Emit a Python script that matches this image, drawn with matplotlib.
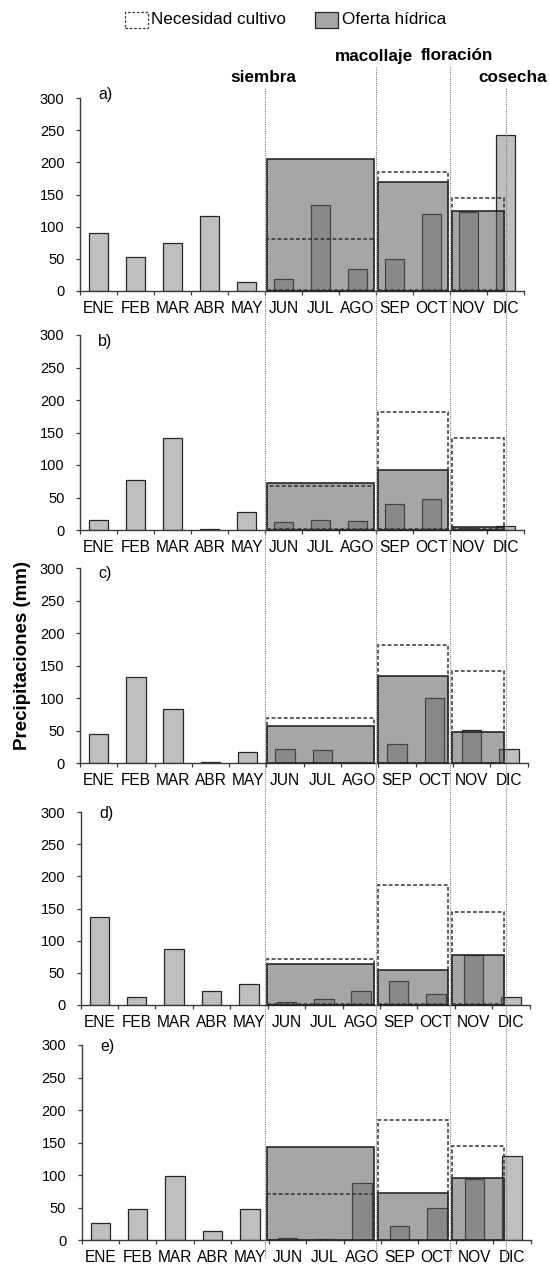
"""
Precipitaciones mensuales vs necesidad del cultivo por etapa (paneles a-e)
"""

import numpy as np
import matplotlib
matplotlib.use('Agg')
import matplotlib.pyplot as plt
from matplotlib.patches import Rectangle
from matplotlib.lines import Line2D
from matplotlib import transforms

plt.rcParams['font.family'] = ['Liberation Sans', 'DejaVu Sans']

# datos
months = ['ENE', 'FEB', 'MAR', 'ABR', 'MAY', 'JUN', 'JUL', 'AGO', 'SEP', 'OCT', 'NOV', 'DIC']

lluvia_a = [90, 53, 75, 117, 14, 19, 134, 34, 49, 120, 123, 242]
lluvia_b = [15, 77, 142, 1, 27, 13, 15, 14, 40, 48, 3, 6]
lluvia_c = [45, 132, 83, 2.5, 17, 22, 21, 1, 29, 100, 52, 22]
lluvia_d = [137, 13, 87, 21, 33, 4, 10, 22, 37, 17, 77, 13]
lluvia_e = [27, 48, 99, 14, 48, 3.5, 2.5, 88, 22, 49, 94, 130]

# por etapa: siembra-macollaje, macollaje-floración, floración-cosecha
oferta_a = [205, 170, 124]
oferta_b = [73, 92, 4]
oferta_c = [58, 135, 48]
oferta_d = [64, 54, 78]
oferta_e = [144, 72, 95]

necesidad_a = [81, 185, 145]
necesidad_b = [67, 181, 142]
necesidad_c = [69, 182, 142]
necesidad_d = [71, 186, 145]
necesidad_e = [71, 185, 145]

panel_names = ['a)', 'b)', 'c)', 'd)', 'e)']
etapas = ['siembra', 'macollaje', 'floración', 'cosecha']
etapa_pos = [4.5, 7.5, 9.5, 11.0]

lluvias = [lluvia_a, lluvia_b, lluvia_c, lluvia_d, lluvia_e]
ofertas = [oferta_a, oferta_b, oferta_c, oferta_d, oferta_e]
necesidades = [necesidad_a, necesidad_b, necesidad_c, necesidad_d, necesidad_e]

W, H = 549, 1267
fig = plt.figure(figsize=(W / 100, H / 100), dpi=100)

# cajas en pixeles: izquierda, derecha, y del 0, y del 300
boxes = [(79.9, 524.3, 291, 98),
         (79.9, 524.3, 530, 335),
         (79.9, 527.5, 763.3, 568.3),
         (80.6, 529.6, 1005, 812),
         (81.6, 530.6, 1240.3, 1045)]
label_y = [306, 290, 292, 298, 298]

x = np.arange(len(months))
axes = []
for i, (l, r, y0, yt) in enumerate(boxes):
    ax = fig.add_axes([l / W, 1 - y0 / H, (r - l) / W, (y0 - yt) / H])
    axes.append(ax)
ax_ref = axes[0]

for i, ax in enumerate(axes):
    ax.bar(x, lluvias[i], width=0.52, color='#BFBFBF', edgecolor='#262626',
           linewidth=0.9, zorder=2)

    # rectangulos por etapa, alineados con las lineas de etapa (panel a)
    trans = transforms.blended_transform_factory(ax_ref.transData, ax.transData)
    for k in range(3):
        s, e = etapa_pos[k] + 0.04, etapa_pos[k + 1] - 0.06
        ax.add_patch(Rectangle((s, 0), e - s, ofertas[i][k], transform=trans,
                               facecolor=(0.37, 0.37, 0.37, 0.55), edgecolor='#1a1a1a',
                               linewidth=1.1, zorder=3, clip_on=False))
        ax.add_patch(Rectangle((s, 0.8), e - s, necesidades[i][k] - 0.8, transform=trans,
                               fill=False, edgecolor='#333333', linestyle=(0, (2.5, 1.5)),
                               linewidth=1.1, zorder=4, clip_on=False))

    ax.set_xlim(-0.5, 11.5)
    ax.set_ylim(0, 300)
    ax.spines['top'].set_visible(False)
    ax.spines['right'].set_visible(False)
    for sp in ['left', 'bottom']:
        ax.spines[sp].set_color('#3a3a3a')
        ax.spines[sp].set_linewidth(1.0)

    ax.set_xticks(np.arange(-0.5, 12, 1))
    ax.set_xticklabels([])
    ax.set_xticks(x, minor=True)
    ax.set_xticklabels(months, minor=True)
    ax.tick_params(axis='x', which='major', direction='out', length=3.1,
                   width=0.9, color='#3a3a3a')
    ax.tick_params(axis='x', which='minor', length=0, pad=7, labelsize=11.2)
    ax.set_yticks(np.arange(0, 301, 50))
    ax.tick_params(axis='y', direction='out', length=3.1, width=0.9,
                   color='#3a3a3a', pad=8, labelsize=10.5)

    ax.text(0.0, label_y[i], panel_names[i], fontsize=11.5, ha='left', va='center')

# lineas de etapa que cruzan todos los paneles
trans_fig = transforms.blended_transform_factory(ax_ref.transData, fig.transFigure)
line_top = [88, 67, 67, 88]
label_px = [77.7, 56, 56, 77.7]
label_x = [4.45, 7.45, 9.67, 11.19]
for k, p in enumerate(etapa_pos):
    fig.add_artist(Line2D([p, p], [1 - line_top[k] / H, 1 - 1258 / H], transform=trans_fig,
                          color='#808080', linewidth=0.8, linestyle=(0, (1, 1))))
    fig.text(label_x[k], 1 - label_px[k] / H, etapas[k], transform=trans_fig,
             ha='center', va='center', fontsize=12.3, fontweight='bold')

fig.text(22.8 / W, 1 - 655 / H, 'Precipitaciones (mm)', rotation=90,
         fontsize=13.5, fontweight='bold', ha='center', va='center')

# leyenda
fig.add_artist(Rectangle((125 / W, 1 - 28 / H), 23 / W, 16 / H, transform=fig.transFigure,
                         fill=False, edgecolor='#333333', linestyle=(0, (2, 1.5)), linewidth=0.9))
fig.text(151 / W, 1 - 20 / H, 'Necesidad cultivo', fontsize=12.3, va='center', ha='left')
fig.add_artist(Rectangle((315 / W, 1 - 28 / H), 23 / W, 16 / H, transform=fig.transFigure,
                         facecolor='#A6A6A6', edgecolor='#262626', linewidth=0.9))
fig.text(341.5 / W, 1 - 20 / H, 'Oferta hídrica', fontsize=12.3, va='center', ha='left')

fig.savefig('out.png', dpi=100)
